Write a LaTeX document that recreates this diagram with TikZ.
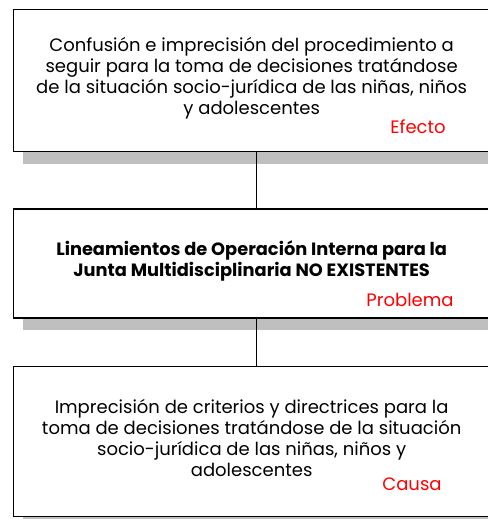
\documentclass[tikz,border=0pt]{standalone}
\usepackage{fontspec}
\setmainfont{Poppins}
\usetikzlibrary{positioning}
\usetikzlibrary{shadows}
\tikzstyle{box} = [rectangle, draw=black, fill=white, line width=1.3pt,
minimum width=486pt, inner sep=0pt,
drop shadow={shadow xshift=9pt, shadow yshift=-12pt, fill=black!25, opacity=1}]
\tikzstyle{boxtext} = [align=center, inner sep=0pt, font=\fontsize{18}{21}\selectfont]
\tikzstyle{tag} = [text=red, inner sep=0pt, font=\fontsize{18}{20}\selectfont]

\begin{document}
\begin{tikzpicture}[x=1pt, y=1pt]
  \useasboundingbox (0,0) rectangle (487,-519);

  \node[box, minimum height=142pt, anchor=north west] (efecto) at (13,-9) {};
  \node[box, minimum height=109pt, below=56pt of efecto] (problema) {};
  \node[box, minimum height=150pt, below=47pt of problema] (causa) {};

  \draw[line width=1.3pt] (efecto.south) -- (problema.north);
  \draw[line width=1.3pt] (problema.south) -- (causa.north);

  \node[boxtext] (efectotxt) at ([xshift=-5pt, yshift=2pt]efecto.center)
    {Confusión e imprecisión del procedimiento a\\
     seguir para la toma de decisiones tratándose\\
     de la situación socio-jurídica de las niñas, niños\\
     y adolescentes};
  \node[boxtext, font=\fontsize{17.8}{21}\selectfont\bfseries] (problematxt)
    at ([xshift=-5pt, yshift=2.5pt]problema.center)
    {Lineamientos de Operación Interna para la\\
     Junta Multidisciplinaria NO EXISTENTES};
  \node[boxtext] (causatxt) at ([xshift=-5pt, yshift=3pt]causa.center)
    {Imprecisión de criterios y directrices para la\\
     toma de decisiones tratándose de la situación\\
     socio-jurídica de las niñas, niños y\\
     adolescentes};

  \node[tag] (efectotag) at ([xshift=405pt, yshift=26pt]efecto.south west) {Efecto};
  \node[tag] (problematag) at ([xshift=397pt, yshift=19pt]problema.south west) {Problema};
  \node[tag] (causatag) at ([xshift=399pt, yshift=33pt]causa.south west) {Causa};
\end{tikzpicture}
\end{document}
